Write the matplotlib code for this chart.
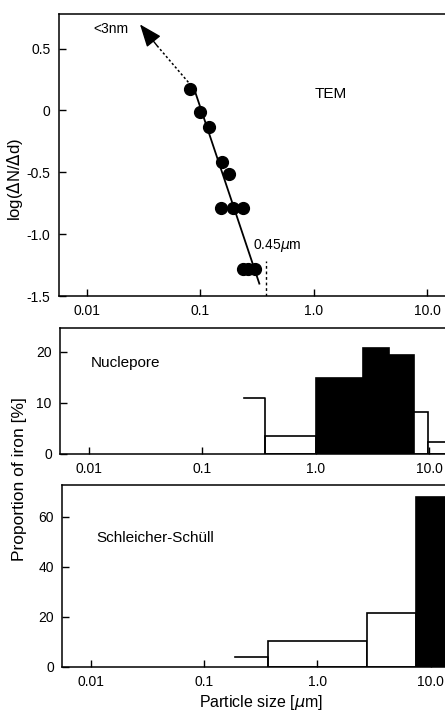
import matplotlib.pyplot as plt
import numpy as np

plt.rcParams['font.family'] = ['Liberation Sans', 'DejaVu Sans']
plt.rcParams['mathtext.fontset'] = 'dejavusans'

# TEM data: particle size (um) vs log(dN/dd)
tem_size = [0.081, 0.100, 0.119, 0.154, 0.179, 0.152, 0.192, 0.238, 0.238, 0.264, 0.300]
tem_logn = [0.17, -0.01, -0.13, -0.42, -0.51, -0.79, -0.79, -0.79, -1.28, -1.28, -1.28]
fit_x = [0.088, 0.33]
fit_y = [0.174, -1.40]
dot_x = [0.0782, 0.0416]
dot_y = [0.228, 0.522]
tip_x, tip_y = 0.0293, 0.696
cut_x = 0.377
cut_y = [-1.5, -1.217]

# Nuclepore histogram (% of iron)
nuc_edges = [0.233, 0.361, 1.0, 2.61, 4.42, 7.33, 9.8, 20.0]
nuc_vals = [11.0, 3.5, 14.8, 20.7, 19.3, 8.3, 2.4]
nuc_black = [False, False, True, True, True, False, False]

# Schleicher-Schuell histogram
ss_edges = [0.188, 0.363, 2.74, 7.47, 20.0]
ss_vals = [4.0, 10.3, 21.6, 68.0]
ss_black = [False, False, False, True]

xticks = [0.01, 0.1, 1.0, 10.0]
xticklabels = ['0.01', '0.1', '1.0', '10.0']
xlim = (10 ** -2.25, 10 ** 1.2)

W, H = 445, 712
fig = plt.figure(figsize=(W / 100, H / 100), dpi=100)


def px_axes(left, top, width, bottom):
    return fig.add_axes([left / W, 1 - bottom / H, width / W, (bottom - top) / H])


def style(ax):
    ax.set_xscale('log')
    ax.set_xlim(*xlim)
    ax.set_xticks(xticks)
    ax.set_xticklabels(xticklabels)
    ax.minorticks_off()
    ax.tick_params(direction='in', length=5, width=1, labelsize=10, pad=6)
    for s in ax.spines.values():
        s.set_linewidth(1.1)


def hist(ax, edges, vals, black):
    e = np.array(edges)
    left = e[:-1]
    width = e[1:] - e[:-1]
    for i in range(len(vals)):
        fc = 'black' if black[i] else 'white'
        if i == 0:
            ax.bar(left[i], vals[i], width[i], align='edge', color=fc, linewidth=0)
            ax.plot([e[0], e[1], e[1]], [vals[0], vals[0], 0], color='black', lw=1.2)
        else:
            ax.bar(left[i], vals[i], width[i], align='edge', facecolor=fc,
                   edgecolor='black', linewidth=1.2)


# top: TEM
ax1 = px_axes(58.6, 14, 391.6, 296)
style(ax1)
ax1.set_ylim(-1.5, 0.78)
ax1.set_yticks([0.5, 0, -0.5, -1.0, -1.5])
ax1.set_yticklabels(['0.5', '0', '-0.5', '-1.0', '-1.5'])
ax1.plot(fit_x, fit_y, color='black', lw=1.3)
ax1.plot(tem_size, tem_logn, 'o', color='black', ms=8.5)
ax1.plot(dot_x, dot_y, color='black', lw=1.1, ls=(0, (1.5, 1.5)))
ax1.annotate('', xy=(tip_x, tip_y), xytext=(dot_x[1], dot_y[1]),
             arrowprops=dict(arrowstyle='-|>,head_length=1.4,head_width=0.55',
                             color='black', lw=1.0, shrinkA=0, shrinkB=0))
ax1.plot([cut_x, cut_x], cut_y, color='black', lw=1.0, ls=(0, (2, 2)))
ax1.text(0.0113, 0.656, '<3nm', fontsize=10, va='center')
ax1.text(1.41, 0.134, 'TEM', fontsize=11, ha='center', va='center')
ax1.text(0.29, -1.094, r'0.45$\mu$m', fontsize=10, va='center')
fig.text(15 / W, 1 - 180 / H, r'log($\Delta$N/$\Delta$d)', rotation=90,
         fontsize=12, ha='center', va='center')

# middle: Nuclepore
ax2 = px_axes(60.1, 327.7, 392, 454)
style(ax2)
ax2.set_ylim(0, 24.7)
ax2.set_yticks([0, 10, 20])
hist(ax2, nuc_edges, nuc_vals, nuc_black)
ax2.text(0.0104, 17.8, 'Nuclepore', fontsize=11, va='center')

# bottom: Schleicher-Schull
ax3 = px_axes(62.4, 485, 391, 666.7)
style(ax3)
ax3.set_ylim(0, 72.7)
ax3.set_yticks([0, 20, 40, 60])
hist(ax3, ss_edges, ss_vals, ss_black)
ax3.text(0.0113, 51.5, 'Schleicher-Schüll', fontsize=11, va='center')
fig.text(261 / W, 1 - 703 / H, r'Particle size [$\mu$m]', fontsize=11.5,
         ha='center', va='center')
fig.text(20 / W, 1 - 479 / H, 'Proportion of iron [%]', rotation=90,
         fontsize=12.5, ha='center', va='center')

fig.savefig('out.png', dpi=100)
